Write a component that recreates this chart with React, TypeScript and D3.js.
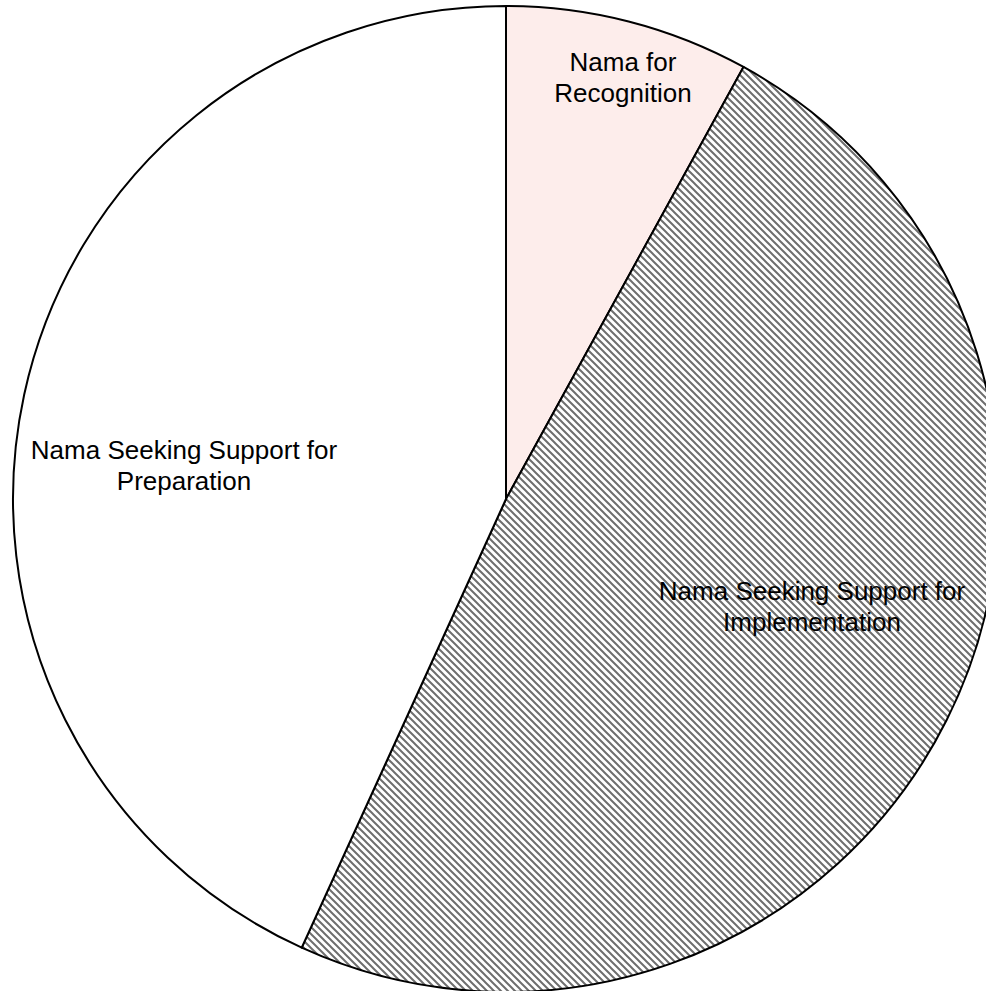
import React from "react";
import * as d3 from "d3";

const categories = [
  "Nama for Recognition",
  "Nama Seeking Support for Implementation",
  "Nama Seeking Support for Preparation",
];
const values = [8.0, 48.8, 43.2];
const labelLines = [
  ["Nama for", "Recognition"],
  ["Nama Seeking Support for", "Implementation"],
  ["Nama Seeking Support for", "Preparation"],
];

const W = 986;
const H = 991;
const CX = 506;
const CY = 499;
const R = 493;
const FONT = 26;
const LINE_GAP = 31;
// first-line baseline anchor relative to pie center (layout only)
const labelPos: [number, number][] = [
  [117, -428],
  [306, 101],
  [-322, -40],
];
const fills = ["#fdedeb", "url(#hatch)", "#ffffff"];

export default function App() {
  const pie = d3
    .pie<number>()
    .sort(null)
    .value((d) => d);
  const arcs = pie(values);
  const arc = d3.arc<d3.PieArcDatum<number>>().innerRadius(0).outerRadius(R);
  return (
    <svg
      width={W}
      height={H}
      style={{ display: "block", position: "absolute", left: 0, top: 0 }}
    >
      <defs>
        <pattern id="hatch" patternUnits="userSpaceOnUse" width={7} height={7}>
          <rect width={7} height={7} fill="#ffffff" />
          <path
            d="M-1,-1 L8,8 M-1,6 L1,8 M6,-1 L8,1"
            stroke="#6e6e6e"
            strokeWidth={2}
          />
        </pattern>
      </defs>
      <rect width={W} height={H} fill="#fff" />
      <g transform={`translate(${CX},${CY})`}>
        {arcs.map((a, i) => (
          <path
            key={categories[i]}
            d={arc(a) || ""}
            fill={fills[i]}
            stroke="#000"
            strokeWidth={2}
            strokeLinejoin="round"
          />
        ))}
        {arcs.map((a, i) => (
          <text
            key={"t" + i}
            x={labelPos[i][0]}
            y={labelPos[i][1]}
            textAnchor="middle"
            fontFamily="'Liberation Sans', Arial, sans-serif"
            fontSize={FONT}
            fill="#000"
          >
            {labelLines[i].map((l, j) => (
              <tspan key={j} x={labelPos[i][0]} dy={j === 0 ? 0 : LINE_GAP}>
                {l}
              </tspan>
            ))}
          </text>
        ))}
      </g>
    </svg>
  );
}
